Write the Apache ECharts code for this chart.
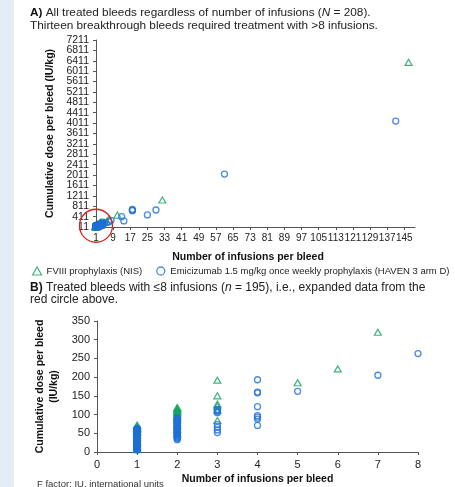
<!DOCTYPE html>
<html><head><meta charset="utf-8">
<script src="https://cdn.jsdelivr.net/npm/echarts@6/dist/echarts.min.js"></script>
<style>html,body{margin:0;padding:0;background:#fff}#c{width:455px;height:487px}</style>
</head><body><div id="c"></div>
<script>
// Tick labels
const xTicksA = [1,9,17,25,33,41,49,57,65,73,81,89,97,105,113,121,129,137,145];
const yTicksA = [11,411,811,1211,1611,2011,2411,2811,3211,3611,4011,4411,4811,5211,5611,6011,6411,6811,7211];
const xTicksB = [0,1,2,3,4,5,6,7,8];
const yTicksB = [0,50,100,150,200,250,300,350];

// FVIII prophylaxis (NIS): infusions per bleed, cumulative dose (IU/kg)
const fviiiN = [1,1,1,1,1,1,1,1,1,1,1,1,1,1,1,
  2,2,2,2,2,2,2,2,2,2,2,2,2,2,
  3,3,3,3,3,3,
  5,6,7,11,32,147];
const fviiiDose = [72,68,65,63,60,57,52,45,38,30,24,16,11,8,6,
  119,116,113,110,108,105,101,97,92,86,77,70,60,48,
  192,150,128,123,111,84,
  185,222,320,470,1050,6350];

// Emicizumab 1.5 mg/kg QW (HAVEN 3 arm D)
const emiN1Dose = [63,62,62,61,60,60,59,58,58,57,56,56,55,55,54,53,53,52,51,51,
  50,50,49,49,48,47,47,46,46,45,45,44,43,43,42,42,41,40,40,39,
  39,38,38,37,36,36,35,35,34,34,33,33,32,31,31,30,30,29,29,28,
  28,27,27,26,25,25,24,24,23,23,22,22,21,20,20,19,19,18,17,17,
  16,16,15,15,14,13,13,12,12,11,11,10,10,9,9,8,8,7,7,6,6,25,30,40,50];
const emiN2Dose = [91,89,87,85,83,82,80,78,77,75,73,72,70,69,67,65,64,62,60,58,57,55,53,51,50,48,46,44,42,40,38,36,33];
const emiN3Dose = [114,112,108,105,73,66,59,52];
const emiN4Dose = [193,160,158,121,97,93,88,71];
const emiOtherN = [5,7,8,13,14,18,18,18,25,29,61,141];
const emiOtherDose = [162,205,263,410,245,690,660,640,475,665,2050,4090];

const GREEN = '#12a05e', BLUE = '#1f6fd8', FONT = '"Liberation Sans", Arial, sans-serif';
const NAME_F = 'FVIII prophylaxis (NIS)';
const NAME_E = 'Emicizumab 1.5 mg/kg once weekly prophylaxis (HAVEN 3 arm D)';

const fviiiPts = fviiiN.map((n, i) => [n, fviiiDose[i]]);
const emiPts = [].concat(
  emiN1Dose.map(v => [1, v]), emiN2Dose.map(v => [2, v]),
  emiN3Dose.map(v => [3, v]), emiN4Dose.map(v => [4, v]),
  emiOtherN.map((n, i) => [n, emiOtherDose[i]]));

const yMinA = yTicksA[0], yMaxA = yTicksA[yTicksA.length - 1];
// labels split over two overlaid axes so none gets dropped as "overlapping"
const yLblEvenA = yTicksA.filter((v, i) => i % 2 === 0);
const yLblOddA = yTicksA.filter((v, i) => i % 2 === 1);

const axisLineStyle = {lineStyle: {color: '#555', width: 1}};
const tickStyle = {show: true, length: 3, lineStyle: {color: '#555'}};
const plain = v => String(v);
const lbl = {color: '#222', fontSize: 10.5, fontFamily: FONT, formatter: plain, showMinLabel: true, showMaxLabel: true, hideOverlap: false};
const nameStyle = {color: '#111', fontSize: 10.5, fontWeight: 'bold', fontFamily: FONT};

const triStyle = {color: 'rgba(0,0,0,0)', borderColor: GREEN, borderWidth: 1.2};
const cirStyle = {color: 'rgba(0,0,0,0)', borderColor: BLUE, borderWidth: 1.3};

const chart = echarts.init(document.getElementById('c'), null, {renderer: 'canvas'});
chart.setOption({
  animation: false,
  textStyle: {fontFamily: FONT},
  title: [
    {left: 25, top: 1.5, padding: 5,
     text: '{b|A)} All treated bleeds regardless of number of infusions ({i|N} = 208).\nThirteen breakthrough bleeds required treatment with >8 infusions.',
     textStyle: {fontSize: 11.8, fontWeight: 'normal', color: '#222', lineHeight: 13, fontFamily: FONT,
       rich: {b: {fontWeight: 'bold', fontSize: 11.8, color: '#111', fontFamily: FONT}, i: {fontStyle: 'italic', fontSize: 11.8, color: '#222', fontFamily: FONT}}}},
    {left: 25, top: 276, padding: 5,
     text: '{b|B)} Treated bleeds with \u22648 infusions ({i|n} = 195), i.e., expanded data from the\nred circle above.',
     textStyle: {fontSize: 12, fontWeight: 'normal', color: '#222', lineHeight: 12.5, fontFamily: FONT,
       rich: {b: {fontWeight: 'bold', fontSize: 12, color: '#111', fontFamily: FONT}, i: {fontStyle: 'italic', fontSize: 12, color: '#222', fontFamily: FONT}}}},
    {left: 32, top: 474, padding: 5, text: 'F factor; IU, international units',
     textStyle: {fontSize: 9.5, fontWeight: 'normal', color: '#333', fontFamily: FONT}}
  ],
  legend: {
    left: 27, top: 261, itemWidth: 9, itemHeight: 8, itemGap: 14,
    textStyle: {fontSize: 9.5, color: '#222', fontFamily: FONT},
    selectedMode: false,
    data: [
      {name: NAME_F, icon: 'triangle', itemStyle: triStyle},
      {name: NAME_E, icon: 'circle', itemStyle: cirStyle}
    ]
  },
  grid: [
    {left: 96, right: 40, top: 40, bottom: 260},
    {left: 97, right: 37, top: 321, bottom: 35}
  ],
  xAxis: [
    {gridIndex: 0, type: 'value', min: xTicksA[0], max: 150,
     axisLine: axisLineStyle, splitLine: {show: false},
     axisTick: Object.assign({customValues: xTicksA}, tickStyle),
     axisLabel: Object.assign({}, lbl, {customValues: xTicksA, margin: 6, fontSize: 10}),
     name: 'Number of infusions per bleed', nameLocation: 'middle', nameGap: 25,
     nameTextStyle: Object.assign({padding: [0, 15, 0, 0]}, nameStyle)},
    {gridIndex: 1, type: 'value', min: xTicksB[0], max: xTicksB[xTicksB.length - 1], interval: 1,
     axisLine: axisLineStyle, splitLine: {show: false},
     axisTick: tickStyle,
     axisLabel: Object.assign({}, lbl, {margin: 7, fontSize: 11}),
     name: 'Number of infusions per bleed', nameLocation: 'middle', nameGap: 22,
     nameTextStyle: nameStyle}
  ],
  yAxis: [
    {gridIndex: 0, type: 'value', min: yMinA, max: yMaxA, interval: 400,
     axisLine: Object.assign({show: true}, axisLineStyle), splitLine: {show: false},
     axisTick: Object.assign({customValues: yTicksA}, tickStyle),
     axisLabel: Object.assign({}, lbl, {customValues: yLblEvenA, margin: 7}),
     name: 'Cumulative dose per bleed (IU/kg)', nameLocation: 'middle', nameGap: 40,
     nameTextStyle: nameStyle},
    {gridIndex: 1, type: 'value', min: yTicksB[0], max: yTicksB[yTicksB.length - 1], interval: 50,
     axisLine: Object.assign({show: true}, axisLineStyle), splitLine: {show: false},
     axisTick: tickStyle, axisLabel: Object.assign({}, lbl, {margin: 7, fontSize: 11}),
     name: 'Cumulative dose per bleed\n(IU/kg)', nameLocation: 'middle', nameGap: 29,
     nameTextStyle: Object.assign({lineHeight: 14}, nameStyle)},
    {gridIndex: 0, type: 'value', min: yMinA, max: yMaxA, position: 'left', offset: 0,
     axisLine: {show: false}, splitLine: {show: false}, axisTick: {show: false},
     axisLabel: Object.assign({}, lbl, {customValues: yLblOddA, margin: 7})}
  ],
  series: [
    {name: NAME_F, type: 'scatter', xAxisIndex: 0, yAxisIndex: 0, data: fviiiPts,
     symbol: 'triangle', symbolSize: [7, 6], itemStyle: triStyle, silent: true, z: 2},
    {name: NAME_E, type: 'scatter', xAxisIndex: 0, yAxisIndex: 0, data: emiPts,
     symbol: 'circle', symbolSize: 6, itemStyle: cirStyle, silent: true, z: 3},
    {name: NAME_F, type: 'scatter', xAxisIndex: 1, yAxisIndex: 1, data: fviiiPts.filter(p => p[0] <= 8),
     symbol: 'triangle', symbolSize: [7, 6], itemStyle: triStyle, silent: true, z: 2},
    {name: NAME_E, type: 'scatter', xAxisIndex: 1, yAxisIndex: 1, data: emiPts.filter(p => p[0] <= 8),
     symbol: 'circle', symbolSize: 6, itemStyle: cirStyle, silent: true, z: 3}
  ]
});

const ctr = chart.convertToPixel({xAxisIndex: 0, yAxisIndex: 0}, [1, 60]);
chart.setOption({
  graphic: [
    {type: 'rect', left: 0, top: 0, shape: {width: 14, height: 487}, style: {fill: '#e4ecf7'}, silent: true, z: -1},
    {type: 'circle', shape: {cx: ctr[0], cy: ctr[1], r: 16.5}, style: {fill: 'none', stroke: '#e0211d', lineWidth: 1.3}, silent: true, z: 10}
  ]
});
</script></body></html>
